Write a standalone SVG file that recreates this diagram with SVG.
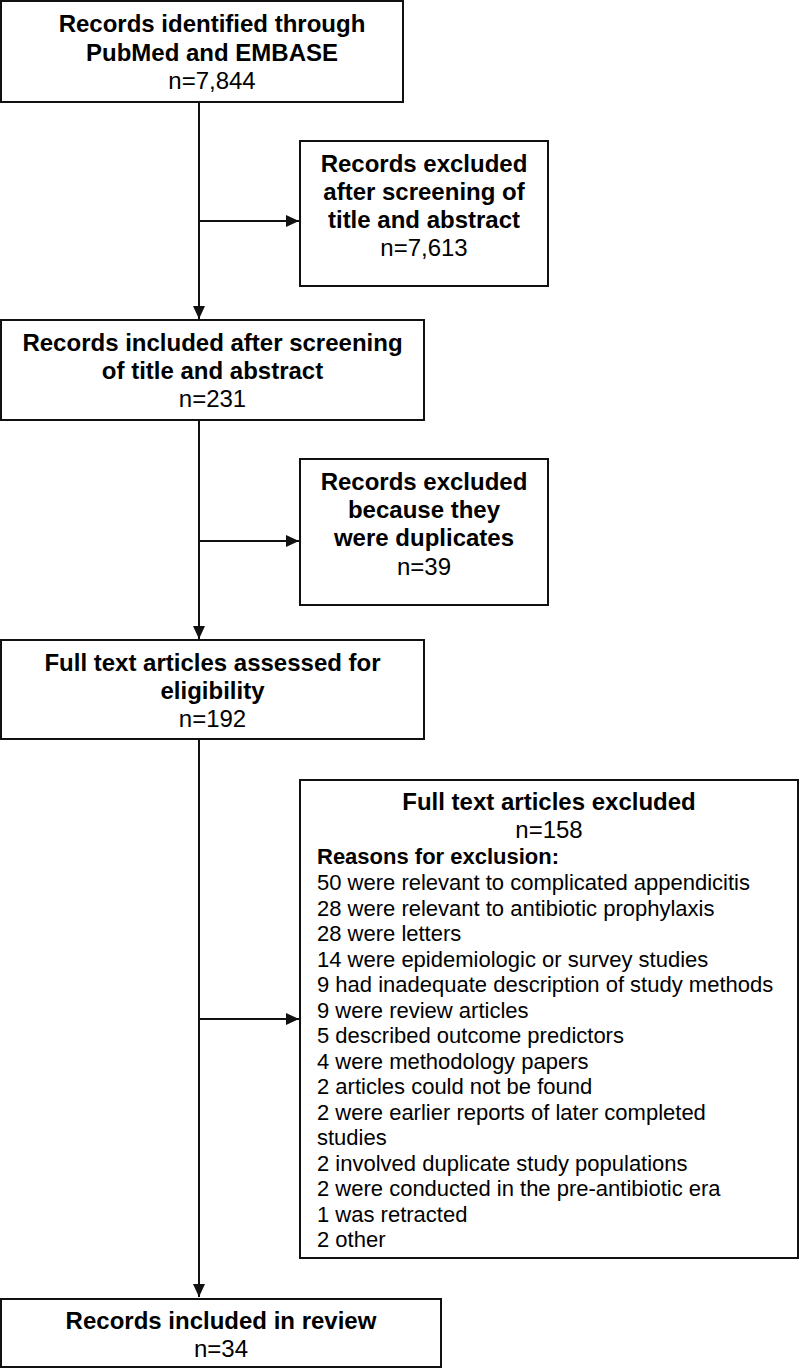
<svg xmlns="http://www.w3.org/2000/svg" width="800" height="1369" viewBox="0 0 800 1369">
<style>
.box{fill:#fff;stroke:#111;stroke-width:2}
.t{font-family:"Liberation Sans",Arial,Helvetica,sans-serif;fill:#000}
.b{font-size:24px;font-weight:bold;text-anchor:middle}
.r{font-size:24px;text-anchor:middle}
.s{font-size:22px}
.sb{font-size:22px;font-weight:bold}
.c{fill:none;stroke:#111;stroke-width:2}
</style>
<defs>
<marker id="ah" markerUnits="userSpaceOnUse" markerWidth="14" markerHeight="14" viewBox="0 0 14 14" refX="13" refY="7" orient="auto">
<path d="M0,1 L13,7 L0,13 Z" fill="#111"/>
</marker>
</defs>
<rect width="800" height="1369" fill="#fff"/>
<g id="connectors">
<path class="c" d="M199,102 V319" marker-end="url(#ah)"/>
<path class="c" d="M199,221 H299" marker-end="url(#ah)"/>
<path class="c" d="M199,420 V639" marker-end="url(#ah)"/>
<path class="c" d="M199,541 H299" marker-end="url(#ah)"/>
<path class="c" d="M199,739 V1297" marker-end="url(#ah)"/>
<path class="c" d="M199,1019 H299" marker-end="url(#ah)"/>
</g>
<g id="n1">
<rect class="box" x="1" y="1" width="402" height="101"/>
<text class="t b" x="212" y="32">Records identified through</text>
<text class="t b" x="212" y="60.5">PubMed and EMBASE</text>
<text class="t r" x="212" y="89">n=7,844</text>
</g>
<g id="n2">
<rect class="box" x="300" y="141" width="248" height="145"/>
<text class="t b" x="424" y="172">Records excluded</text>
<text class="t b" x="424" y="200">after screening of</text>
<text class="t b" x="424" y="228">title and abstract</text>
<text class="t r" x="424" y="256">n=7,613</text>
</g>
<g id="n3">
<rect class="box" x="1" y="320" width="423" height="100"/>
<text class="t b" x="212.5" y="351">Records included after screening</text>
<text class="t b" x="212.5" y="379">of title and abstract</text>
<text class="t r" x="212.5" y="407">n=231</text>
</g>
<g id="n4">
<rect class="box" x="300" y="459" width="248" height="146"/>
<text class="t b" x="424" y="490">Records excluded</text>
<text class="t b" x="424" y="518">because they</text>
<text class="t b" x="424" y="546">were duplicates</text>
<text class="t r" x="424" y="575">n=39</text>
</g>
<g id="n5">
<rect class="box" x="1" y="640" width="423" height="99"/>
<text class="t b" x="212.5" y="671">Full text articles assessed for</text>
<text class="t b" x="212.5" y="698.5">eligibility</text>
<text class="t r" x="212.5" y="727">n=192</text>
</g>
<g id="n6">
<rect class="box" x="300" y="780" width="498" height="478"/>
<text class="t b" x="549" y="810">Full text articles excluded</text>
<text class="t r" x="549" y="838">n=158</text>
<text class="t sb" x="317" y="864">Reasons for exclusion:</text>
<text class="t s" x="317" y="890">50 were relevant to complicated appendicitis</text>
<text class="t s" x="317" y="915.5">28 were relevant to antibiotic prophylaxis</text>
<text class="t s" x="317" y="941">28 were letters</text>
<text class="t s" x="317" y="966.5">14 were epidemiologic or survey studies</text>
<text class="t s" x="317" y="992">9 had inadequate description of study methods</text>
<text class="t s" x="317" y="1017.5">9 were review articles</text>
<text class="t s" x="317" y="1043">5 described outcome predictors</text>
<text class="t s" x="317" y="1068.5">4 were methodology papers</text>
<text class="t s" x="317" y="1094">2 articles could not be found</text>
<text class="t s" x="317" y="1119.5">2 were earlier reports of later completed</text>
<text class="t s" x="317" y="1145">studies</text>
<text class="t s" x="317" y="1170.5">2 involved duplicate study populations</text>
<text class="t s" x="317" y="1196">2 were conducted in the pre-antibiotic era</text>
<text class="t s" x="317" y="1221.5">1 was retracted</text>
<text class="t s" x="317" y="1247">2 other</text>
</g>
<g id="n7">
<rect class="box" x="1" y="1299" width="440" height="68"/>
<text class="t b" x="221" y="1329">Records included in review</text>
<text class="t r" x="221" y="1357">n=34</text>
</g>
</svg>
